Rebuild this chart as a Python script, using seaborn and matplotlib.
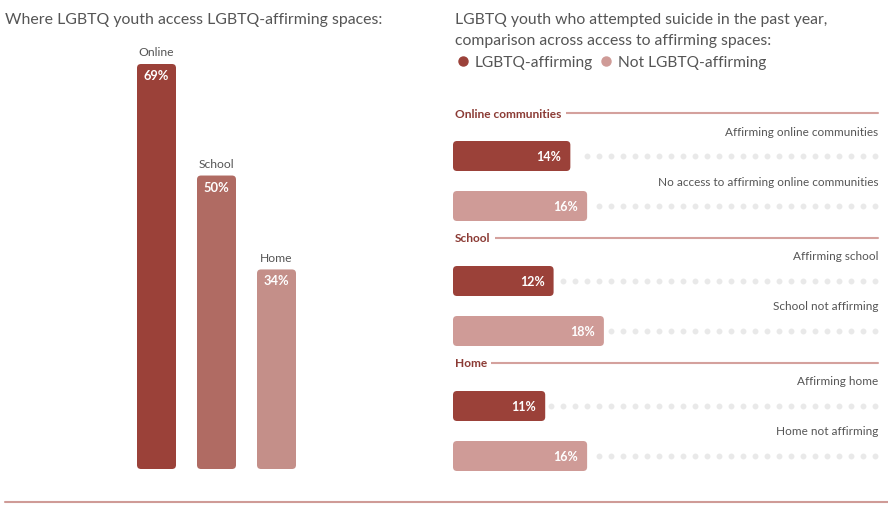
import numpy as np
import pandas as pd
import matplotlib.pyplot as plt
import seaborn as sns
from matplotlib.patches import FancyBboxPatch
from matplotlib.lines import Line2D

# Left chart: where youth access affirming spaces
spaces = ["Online", "School", "Home"]
access_pct = [69, 50, 34]
space_colors = ["#9b4139", "#b06b63", "#c48f89"]

# Right chart: attempted suicide by access to affirming spaces
sections = ["Online communities", "School", "Home"]
row_labels = [
    ["Affirming online communities", "No access to affirming online communities"],
    ["Affirming school", "School not affirming"],
    ["Affirming home", "Home not affirming"],
]
affirming_pct = [14, 12, 11]
not_affirming_pct = [16, 18, 16]
groups = ["LGBTQ-affirming", "Not LGBTQ-affirming"]
group_colors = {"LGBTQ-affirming": "#9b4139", "Not LGBTQ-affirming": "#cf9b97"}

sns.set_theme(style="white")
plt.rcParams["font.family"] = ["Lato", "DejaVu Sans"]

W, H = 888, 506
fig = plt.figure(figsize=(W / 100, H / 100), dpi=100)
TXT = "#555555"


def px_box(x0, y0, x1, y1):
    return [x0 / W, 1 - y1 / H, (x1 - x0) / W, (y1 - y0) / H]


def px_per_unit(ax):
    pos = ax.get_position()
    x0, x1 = ax.get_xlim()
    y0, y1 = ax.get_ylim()
    return pos.width * W / abs(x1 - x0), pos.height * H / abs(y1 - y0)


def round_bars(ax, radius_px=4):
    # swap seaborn's rectangles for rounded ones
    sx, sy = px_per_unit(ax)
    for p in list(ax.patches):
        box = FancyBboxPatch(
            (p.get_x(), p.get_y()), p.get_width(), p.get_height(),
            boxstyle=f"round,pad=0,rounding_size={radius_px / sx}",
            mutation_aspect=sx / sy,
            fc=p.get_facecolor(), ec="none", zorder=2,
        )
        p.remove()
        ax.add_patch(box)


# ---- left panel ----
fig.text(5 / W, 1 - 20 / H, "Where LGBTQ youth access LGBTQ-affirming spaces:",
         fontsize=11.4, color=TXT, va="center")

ax1 = fig.add_axes(px_box(126.5, 40, 306.5, 470))
sns.barplot(x=spaces, y=access_pct, hue=spaces, palette=space_colors,
            width=0.65, saturation=1, legend=False, ax=ax1)
ax1.set_xlim(-0.5, 2.5)
ax1.set_ylim(0, 430 / (405 / 69))
ax1.axis("off")
round_bars(ax1)
sx, sy = px_per_unit(ax1)
for i, (name, v) in enumerate(zip(spaces, access_pct)):
    ax1.text(i, v + 12 / sy, name, ha="center", va="center", fontsize=8.7, color=TXT)
    ax1.text(i, v - 11 / sy, f"{v}%", ha="center", va="center", fontsize=9.3,
             color="white", fontweight="bold", zorder=3)

# ---- right panel ----
fig.text(455 / W, 1 - 20 / H, "LGBTQ youth who attempted suicide in the past year,",
         fontsize=11.3, color=TXT, va="center")
fig.text(455 / W, 1 - 41 / H, "comparison across access to affirming spaces:",
         fontsize=11.3, color=TXT, va="center")
handles = [Line2D([], [], marker="o", ls="", color=group_colors[g], markersize=6.5)
           for g in groups]
fig.legend(handles, groups, loc="center left", bbox_to_anchor=(455 / W, 1 - 63 / H),
           ncol=2, frameon=False, fontsize=11.2, handletextpad=0.25, columnspacing=0.35,
           handlelength=1, borderpad=0, borderaxespad=0, labelcolor=TXT)

XMAX = 50.7
for k, sec in enumerate(sections):
    top = 107 + 125 * k
    ax = fig.add_axes(px_box(453, top, 878, top + 125))
    df = pd.DataFrame({
        "label": row_labels[k],
        "pct": [affirming_pct[k], not_affirming_pct[k]],
        "group": groups,
    })
    sns.barplot(data=df, x="pct", y="label", hue="group", palette=group_colors,
                orient="h", dodge=False, width=0.6, saturation=1, legend=False, ax=ax)
    ax.set_xlim(0, XMAX)
    ax.set_ylim(1.5, -1.0)
    ax.axis("off")
    round_bars(ax)
    sx, sy = px_per_unit(ax)

    # section header with rule
    ax.plot([0.3, XMAX], [-0.86, -0.86], color="#d4a19d", lw=1.5, clip_on=False, zorder=1)
    ax.text(2 / sx, -0.86, sec, ha="left", va="center", fontsize=8.6, fontweight="bold",
            color="#8b3a34", zorder=2,
            bbox=dict(fc="white", ec="none", boxstyle="square,pad=0.35"))

    dots = (875 - 453) / sx - np.arange(40) * 12 / sx
    for row, v in enumerate(df["pct"]):
        d = dots[dots > v + 5 / sx]
        ax.scatter(d, [row] * len(d), s=18, color="#e9e9e9", lw=0, zorder=1)
        ax.text(XMAX, row - 0.5, df["label"][row], ha="right", va="center",
                fontsize=8.5, color=TXT)
        ax.text(v - 9 / sx, row, f"{v}%", ha="right", va="center", fontsize=9,
                color="white", fontweight="bold", zorder=3)

fig.add_artist(Line2D([5 / W, 1], [1 - 503 / H] * 2, color="#cf9b97", lw=1.5))

fig.savefig("out.png", dpi=100)
